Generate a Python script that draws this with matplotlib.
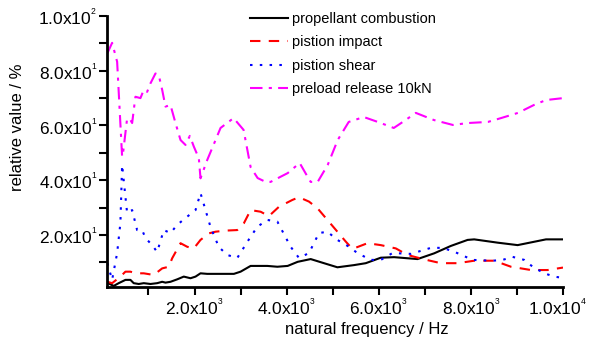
import numpy as np
import matplotlib
matplotlib.use('Agg')
import matplotlib.pyplot as plt
import matplotlib.transforms as mtransforms
from matplotlib.ticker import FixedLocator, FuncFormatter

plt.rcParams['font.family'] = ['Liberation Sans', 'DejaVu Sans']
plt.rcParams['mathtext.fontset'] = 'custom'
plt.rcParams['mathtext.rm'] = 'Liberation Sans'
plt.rcParams['mathtext.it'] = 'Liberation Sans'

# propellant combustion
x_comb = [109, 246, 354, 500, 609, 680, 789, 898, 1044, 1189, 1298, 1370, 1478, 1624, 1767,
          1913, 2022, 2130, 2276, 2855, 3000, 3218, 3581, 3798, 4022, 4240, 4522, 4811, 5102,
          5463, 5718, 6044, 6333, 6624, 6841, 7203, 7565, 7928, 8072, 8580, 9015, 9631, 10000]
y_comb = [2.5, 1.4, 2.4, 3.6, 3.6, 2.4, 2.1, 2.4, 2.1, 2.4, 2.9, 2.6, 2.9, 3.8, 4.8,
          4.2, 4.8, 6.0, 5.8, 5.8, 6.6, 8.7, 8.7, 8.4, 8.7, 10.2, 11.2, 9.7, 8.2,
          9.0, 9.7, 11.7, 11.9, 11.5, 11.2, 13.3, 16.0, 18.2, 18.4, 17.2, 16.3, 18.4, 18.4]

# pistion impact
x_imp = [109, 211, 391, 500, 609, 717, 898, 1115, 1298, 1441, 1515, 1696, 1841, 1985, 2130,
         2311, 2457, 2674, 2928, 3072, 3218, 3435, 3615, 3833, 4124, 4268, 4485, 4668, 4885,
         5102, 5283, 5429, 5755, 6044, 6370, 6624, 6985, 7348, 7711, 8072, 8507, 8870, 9305,
         9668, 10000]
y_imp = [2.9, 2.4, 4.8, 6.6, 6.6, 6.0, 6.0, 5.4, 7.8, 8.4, 11.5, 17.0, 15.7, 15.1, 18.2,
         20.6, 21.2, 21.6, 21.8, 24.3, 29.1, 28.5, 26.9, 30.3, 32.8, 33.8, 32.2, 29.8, 25.5,
         21.2, 17.6, 14.9, 17.0, 16.3, 15.1, 12.7, 11.1, 9.7, 9.7, 10.6, 10.6, 8.4, 7.2,
         7.2, 8.1]

# pistion shear
x_shear = [109, 211, 320, 391, 428, 537, 646, 754, 863, 935, 1080, 1189, 1333, 1478, 1624,
           1804, 2022, 2130, 2239, 2348, 2528, 2711, 2928, 3174, 3363, 3581, 3798, 4087, 4268,
           4485, 4702, 4885, 5102, 5355, 5537, 5826, 6044, 6298, 6696, 7131, 7385, 7637, 8037,
           8472, 8689, 8907, 9159, 9342, 9594, 9811, 10000]
y_shear = [9.7, 3.6, 13.4, 24.4, 45.6, 28.0, 29.1, 21.8, 21.8, 18.9, 16.3, 13.8, 21.8, 20.7, 23.7,
           26.2, 29.1, 35.3, 29.1, 22.9, 15.6, 12.7, 11.6, 18.2, 23.0, 25.5, 24.9, 15.7, 11.6,
           13.4, 20.7, 21.2, 18.2, 15.7, 13.4, 10.9, 10.9, 13.4, 13.1, 15.3, 15.3, 13.9, 10.9,
           10.6, 10.9, 12.0, 10.9, 8.4, 6.0, 4.8, 4.3]

# preload release 10kN
x_pre = [109, 211, 320, 428, 446, 537, 609, 646, 717, 826, 898, 972, 1044, 1152, 1224,
         1298, 1370, 1478, 1587, 1696, 1804, 1898, 1985, 2094, 2130, 2276, 2457, 2565, 2848,
         3065, 3218, 3370, 3544, 3652, 4022, 4283, 4457, 4522, 4674, 4892, 5109, 5348, 5674,
         5979, 6326, 6522, 6805, 7196, 7609, 7935, 8370, 8653, 9022, 9370, 9631, 10000]
y_pre = [86.4, 90.2, 83.3, 48.6, 49.6, 62.6, 62.0, 60.9, 70.5, 70.0, 73.0, 72.3, 75.4, 79.0, 78.4,
         73.0, 66.9, 67.5, 60.9, 54.7, 52.9, 56.2, 52.3, 48.0, 40.7, 47.4, 54.7, 59.1, 62.7,
         58.4, 44.8, 40.8, 39.4, 39.4, 42.6, 46.3, 41.2, 39.4, 39.4, 45.6, 54.7, 61.3, 63.1,
         61.3, 59.1, 61.3, 64.6, 62.0, 60.2, 60.9, 61.3, 62.7, 64.6, 67.5, 69.3, 70.0]

labels = ['propellant combustion', 'pistion impact', 'pistion shear', 'preload release 10kN']


def sci_fmt(v, pos):
    if v == 0:
        return ''
    e = int(np.floor(np.log10(abs(v)) + 1e-9))
    m = v / 10**e
    # small, high exponent like the original
    return r'$\mathrm{%.1fx10}^{{}^{%d}}$' % (m, e)


fig = plt.figure(figsize=(5.89, 3.42), dpi=100)
ax = fig.add_axes([107/589, 1-287/342, (563-107)/589, (287-16)/342])

lw = 1.5
ax.plot(x_comb, y_comb, color='black', lw=lw, ls='-', label=labels[0])
ax.plot(x_imp, y_imp, color='#ff0000', lw=lw, ls=(0, (5, 4)), label=labels[1])
ax.plot(x_shear, y_shear, color='#0000ff', lw=lw, ls=(0, (1.2, 3.5)), label=labels[2])
ax.plot(x_pre, y_pre, color='#ff00ff', lw=lw, ls=(0, (6, 3, 1.5, 3)), label=labels[3])

ax.set_xlim(100, 10000)
ax.set_ylim(1, 100)

ax.xaxis.set_major_locator(FixedLocator([2000, 4000, 6000, 8000, 10000]))
ax.xaxis.set_minor_locator(FixedLocator([1000, 3000, 5000, 7000, 9000]))
ax.yaxis.set_major_locator(FixedLocator([20, 40, 60, 80, 100]))
ax.yaxis.set_minor_locator(FixedLocator([10, 30, 50, 70, 90]))
ax.xaxis.set_major_formatter(FuncFormatter(sci_fmt))
ax.yaxis.set_major_formatter(FuncFormatter(sci_fmt))

for s in ['top', 'right']:
    ax.spines[s].set_visible(False)
for s in ['left', 'bottom']:
    ax.spines[s].set_linewidth(2)

ax.tick_params(which='both', direction='out', length=6, width=1.5, labelsize=12.5, pad=1)

# last x label sits at the right edge, nudge it in a bit
last = ax.get_xticklabels()[-1]
last.set_transform(last.get_transform() + mtransforms.ScaledTranslation(-5/100, 0, fig.dpi_scale_trans))

ax.set_xlabel('natural frequency / Hz', fontsize=12)
ax.set_ylabel('relative value / %', fontsize=12)
ax.xaxis.set_label_coords(0.569, -0.13)
ax.yaxis.set_label_coords(-0.18, 0.59)

fig.legend(loc='upper left', bbox_to_anchor=(250/589, 1-12/342), frameon=False,
           fontsize=10.5, handlelength=2.6, handletextpad=0.3, labelspacing=0.65,
           borderpad=0, borderaxespad=0)

fig.savefig('out.png', dpi=100)
